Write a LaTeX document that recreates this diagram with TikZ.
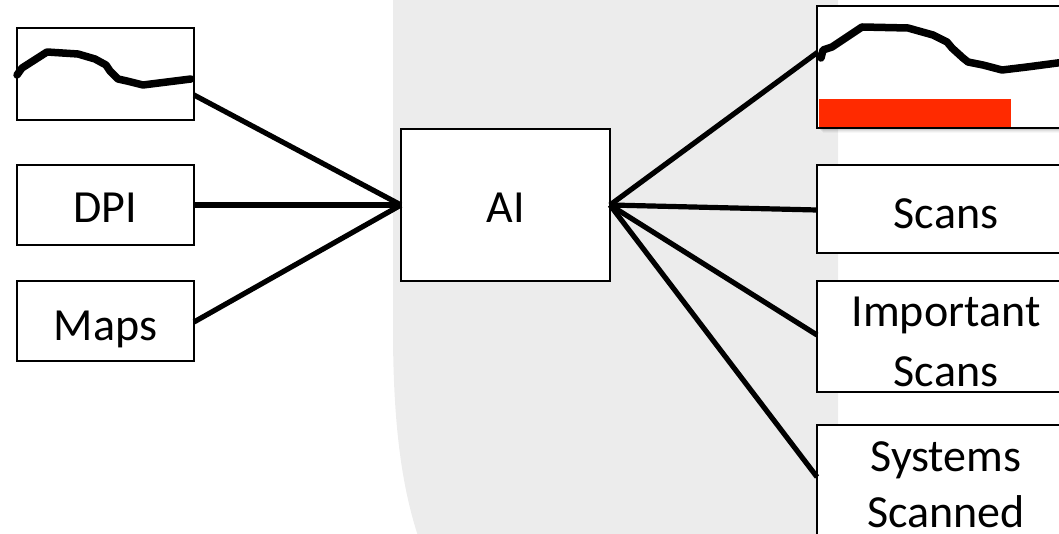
\documentclass[tikz,border=0pt]{standalone}
\usepackage{fontspec}
\setmainfont{Carlito}
\definecolor{bggray}{HTML}{ECECEC}
\definecolor{barred}{HTML}{FF2A00}
\begin{document}
\begin{tikzpicture}[x=1pt,y=-1pt,
  box/.style={draw=black,fill=white,line width=2.8pt,rectangle,inner sep=0pt},
  lbl/.style={anchor=base,inner sep=0pt,font=\fontsize{46}{55}\selectfont},
  conn/.style={line width=5.2pt,line cap=butt},
  chartline/.style={line width=7.5pt,line join=round,line cap=round}]
\useasboundingbox (0,0) rectangle (1059,534);
\clip (0,0) rectangle (1059,534);
% background region
\fill[bggray] (393,-2) -- (393,330) .. controls (393,430) and (403,490) .. (418,536) -- (838,536) -- (838,-2) -- cycle;

% left column boxes
\node[box,minimum width=177pt,minimum height=92pt] (chartL) at (105.5,74) {};
\node[box,minimum width=177pt,minimum height=80pt] (dpi) at (105.5,205) {};
\node[box,minimum width=177pt,minimum height=80pt] (maps) at (105.5,321) {};
\node[lbl] (tdpi) at (105.5,223) {DPI};
\node[lbl] (tmaps) at (105.5,340) {Maps};

% center box
\node[box,minimum width=209pt,minimum height=152pt] (ai) at (505.5,205) {};
\node[lbl] (tai) at (505.5,223) {AI};

% right column: shadow under chart box
\foreach \o/\a in {1/0.10,2/0.08,3/0.06,4/0.04,5/0.03}{
  \fill[black,opacity=\a] (818+\o,8+\o) rectangle (1080,128+\o);
}
\node[box,minimum width=260pt,minimum height=122pt] (chartR) at (947,67) {};
\fill[barred] (819,99) rectangle (1011,127);
\node[box,minimum width=258pt,minimum height=88pt] (scans) at (946,209) {};
\node[box,minimum width=258pt,minimum height=111pt] (imp) at (946,336.5) {};
\node[box,minimum width=258pt,minimum height=140pt] (sys) at (946,495) {};
\node[lbl] (tscans) at (946,229) {Scans};
\node[lbl] (timp1) at (946,326) {Important};
\node[lbl] (timp2) at (946,386) {Scans};
\node[lbl] (tsys1) at (946,471) {Systems};
\node[lbl] (tsys2) at (946,527) {Scanned};

% connector ports
\coordinate (pCL) at (194,95);
\coordinate (pDPI) at (194,205);
\coordinate (pMaps) at (194,322);
\coordinate (aiL) at (401,205);
\coordinate (aiR) at (610,205);
\coordinate (pCR) at (818,52);
\coordinate (pScans) at (817,210);
\coordinate (pImp) at (817,335);
\coordinate (pSys) at (817,477);

% connectors
\draw[conn] (pCL) -- (aiL);
\draw[conn] (pDPI) -- (aiL);
\draw[conn] (pMaps) -- (aiL);
\draw[conn] (aiR) -- (pCR);
\draw[conn] (aiR) -- (pScans);
\draw[conn] (aiR) -- (pImp);
\draw[conn] (aiR) -- (pSys);

% chart curves
\draw[chartline] (17,75) -- (22,68) -- (47,52) -- (78,54) -- (95,59) -- (106,65) -- (110,71) -- (118,79) -- (127,81) -- (143,85) -- (167,82) -- (191,79);
\draw[chartline] (821,58) -- (823,50) -- (832,47) -- (862,27) -- (908,28) -- (933,35) -- (947,42) -- (952,48) -- (963,58) -- (968,62) -- (983,65) -- (1002,70) -- (1027,67) -- (1065,62);
\end{tikzpicture}
\end{document}
